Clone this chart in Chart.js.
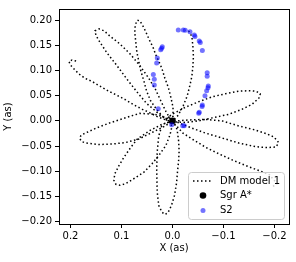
<!DOCTYPE html>
<html>
<head>
<meta charset="utf-8">
<script src="https://cdn.jsdelivr.net/npm/chart.js@4.4.1/dist/chart.umd.min.js"></script>
<style>
  html, body { margin: 0; padding: 0; background: #fff; }
</style>
</head>
<body>
<canvas id="orbitChart" width="296" height="262"></canvas>
<script>
// Axis ranges and ticks (arcsec)
const xMin = -0.2284, xMax = 0.2225;
const yMin = -0.205, yMax = 0.2225;
const xTicks = [0.2, 0.1, 0.0, -0.1, -0.2];
const yTicks = [0.20, 0.15, 0.10, 0.05, 0.00, -0.05, -0.10, -0.15, -0.20];

// DM model 1 orbit, one line per petal, null = gap in the line
const modelX = [
  -0.197, -0.205, -0.190, -0.170, -0.144, -0.118, -0.092, -0.066, -0.040, -0.020, -0.009, -0.001,
  0.013, 0.021, 0.027, 0.030, 0.031, 0.030, 0.027, 0.021, 0.015, 0.009, 0.002, -0.004, -0.008, -0.010, -0.012, -0.013, -0.012, -0.009, -0.003,
  0.005, 0.021, 0.044, 0.069, 0.082, 0.095, 0.105, 0.113, 0.115, 0.111, 0.103, 0.092, 0.076, 0.056, 0.040, 0.027, 0.013, 0.005, 0.001,
  0.009, 0.034, 0.064, 0.090, 0.123, 0.149, 0.166, 0.177, 0.180, 0.182, 0.178, 0.170, 0.144, 0.118, 0.092, 0.066, 0.040, 0.020, 0.005,
  0.013, 0.028, 0.051, 0.070, 0.090, 0.109, 0.129, 0.142, 0.150, 0.152, 0.144, 0.134, 0.123, 0.103, 0.083, 0.064, 0.048, 0.034, 0.023, 0.013, 0.005,
  0.015, 0.023, 0.034, 0.043, 0.051, 0.056, 0.062, 0.066, 0.070, 0.072, 0.074, 0.073, 0.069, 0.064, 0.057, 0.051, 0.044, 0.038, 0.033, 0.028, 0.021, 0.015, 0.008, 0.003, -0.001, -0.001,
  0.009, 0.001, -0.025, -0.051, -0.078, -0.104, -0.130, -0.149, -0.164, -0.172, -0.171, -0.156, -0.136, -0.110, -0.078, -0.051, -0.025, -0.007,
  -0.007, -0.034, -0.064, -0.097, -0.130, -0.162, -0.183, -0.199, -0.208, -0.203, -0.183, -0.162, -0.130, -0.097, -0.064, -0.040, -0.015,
  -0.001, -0.011, -0.021, -0.029, -0.034, -0.038, -0.040, -0.041, -0.040, -0.038, -0.032, -0.026,
  null,
  0.189, 0.197, 0.203, 0.200, 0.191, 0.183, 0.172, 0.157, 0.142, 0.125, 0.109, 0.092, 0.076, 0.059, 0.044, 0.027, 0.013, 0.003
];
const modelY = [
  -0.130, -0.125, -0.107, -0.099, -0.089, -0.078, -0.066, -0.053, -0.037, -0.024, -0.011, -0.003,
  -0.003, -0.010, -0.030, -0.062, -0.095, -0.141, -0.168, -0.181, -0.186, -0.183, -0.168, -0.148, -0.123, -0.099, -0.079, -0.060, -0.040, -0.017, -0.004,
  -0.002, -0.007, -0.019, -0.036, -0.053, -0.072, -0.089, -0.105, -0.118, -0.126, -0.128, -0.125, -0.115, -0.102, -0.085, -0.069, -0.049, -0.028, -0.011,
  0.005, 0.013, 0.015, 0.007, -0.004, -0.014, -0.022, -0.027, -0.030, -0.035, -0.041, -0.044, -0.047, -0.046, -0.043, -0.036, -0.023, -0.013, -0.004,
  0.003, 0.015, 0.035, 0.058, 0.084, 0.110, 0.136, 0.156, 0.170, 0.179, 0.183, 0.179, 0.169, 0.153, 0.133, 0.110, 0.087, 0.064, 0.040, 0.019, 0.005,
  0.005, 0.013, 0.027, 0.040, 0.060, 0.079, 0.099, 0.118, 0.138, 0.157, 0.176, 0.191, 0.200, 0.199, 0.187, 0.174, 0.158, 0.146, 0.132, 0.121, 0.105, 0.085, 0.066, 0.046, 0.027, 0.009,
  0.007, 0.013, 0.027, 0.038, 0.048, 0.054, 0.059, 0.060, 0.059, 0.054, 0.047, 0.033, 0.023, 0.013, 0.006, 0.000, -0.003, -0.002,
  0.000, 0.002, 0.003, 0.000, -0.010, -0.018, -0.025, -0.032, -0.043, -0.052, -0.053, -0.051, -0.044, -0.034, -0.024, -0.015, -0.005,
  0.001, 0.011, 0.030, 0.050, 0.070, 0.089, 0.109, 0.128, 0.148, 0.168, 0.178, 0.180,
  null,
  0.119, 0.121, 0.118, 0.111, 0.101, 0.093, 0.085, 0.078, 0.069, 0.059, 0.051, 0.042, 0.032, 0.023, 0.016, 0.007, 0.002, -0.001
];

// Sgr A* position
const sgrX = [0.0];
const sgrY = [0.0];

// S2 astrometric positions
const s2X = [0.028, 0.0357, 0.0357, 0.0376, 0.031, 0.0298, 0.0231, 0.0212, 0.020,
  -0.0114, -0.0212, -0.025, -0.0343, -0.0428, -0.044, -0.0525, -0.0545, -0.0585,
  -0.068, -0.068, -0.0702, -0.0696, -0.067, -0.0637, -0.0585, -0.058, -0.0525, -0.0514,
  -0.020, -0.023, 0.0016];
const s2Y = [0.024, 0.0716, 0.0827, 0.0925, 0.1153, 0.1251, 0.1416, 0.1447, 0.1475,
  0.1808, 0.1808, 0.180, 0.1775, 0.171, 0.1676, 0.159, 0.156, 0.140,
  0.0957, 0.089, 0.0696, 0.0657, 0.0598, 0.050, 0.0318, 0.0284, 0.0173, 0.0153,
  -0.0094, -0.0094, -0.0075];

const zip = (xs, ys) => xs.map((x, i) => ({ x: x, y: ys[i] }));

const font = { family: '"DejaVu Sans", sans-serif', size: 10 };
const fmt = (v, d) => (v < 0 ? '\u2212' : '') + Math.abs(v).toFixed(d);

// Box around the axes (matplotlib spines)
const framePlugin = {
    id: 'frame',
    afterDatasetsDraw(chart) {
        const { ctx, chartArea: a } = chart;
        ctx.save();
        ctx.strokeStyle = '#000';
        ctx.lineWidth = 1;
        ctx.strokeRect(Math.round(a.left) + 0.5, Math.round(a.top) + 0.5,
            Math.round(a.right - a.left), Math.round(a.bottom - a.top));
        ctx.restore();
    }
};

// Legend inside the axes, lower right
const boxLegend = {
    id: 'boxLegend',
    afterDraw(chart) {
        const { ctx, chartArea: a } = chart;
        const ds = chart.data.datasets;
        const w = 96, h = 47;
        const bx = a.right - 5 - w, by = a.bottom - 5 - h;
        ctx.save();
        ctx.beginPath();
        if (ctx.roundRect) ctx.roundRect(bx + 0.5, by + 0.5, w, h, 3);
        else ctx.rect(bx + 0.5, by + 0.5, w, h);
        ctx.fillStyle = 'rgba(255,255,255,0.8)';
        ctx.fill();
        ctx.strokeStyle = '#cccccc';
        ctx.lineWidth = 1;
        ctx.stroke();

        const rows = [by + 9, by + 23.5, by + 38.5];
        const hx = bx + 5, mx = bx + 15, tx = bx + 32;
        // dotted handle
        ctx.beginPath();
        ctx.setLineDash(ds[0].borderDash);
        ctx.lineWidth = ds[0].borderWidth;
        ctx.strokeStyle = ds[0].borderColor;
        ctx.moveTo(hx, rows[0]);
        ctx.lineTo(hx + 20, rows[0]);
        ctx.stroke();
        ctx.setLineDash([]);
        // markers
        [1, 2].forEach(i => {
            ctx.beginPath();
            ctx.arc(mx, rows[i], ds[i].pointRadius, 0, Math.PI * 2);
            ctx.fillStyle = ds[i].backgroundColor;
            ctx.fill();
        });
        // texts
        ctx.fillStyle = '#000';
        ctx.font = '10px "DejaVu Sans", sans-serif';
        ctx.textBaseline = 'middle';
        ctx.textAlign = 'left';
        ds.forEach((d, i) => ctx.fillText(d.label, tx, rows[i]));
        ctx.restore();
    }
};

new Chart(document.getElementById('orbitChart'), {
    type: 'scatter',
    data: {
        datasets: [{
            label: 'DM model 1',
            data: zip(modelX, modelY),
            showLine: true,
            spanGaps: false,
            borderColor: '#000',
            borderWidth: 1.5,
            borderDash: [1.5, 2.5],
            pointRadius: 0,
            tension: 0,
            order: 3
        }, {
            label: 'Sgr A*',
            data: zip(sgrX, sgrY),
            pointRadius: 3.3,
            backgroundColor: '#000',
            borderWidth: 0,
            order: 2
        }, {
            label: 'S2',
            data: zip(s2X, s2Y),
            pointRadius: 2.5,
            backgroundColor: 'rgba(0,0,255,0.55)',
            borderWidth: 0,
            order: 1
        }]
    },
    options: {
        responsive: false,
        animation: false,
        devicePixelRatio: 1,
        layout: { padding: { top: 6, right: 7, left: 0, bottom: 0 } },
        plugins: { legend: { display: false }, tooltip: { enabled: false } },
        scales: {
            x: {
                type: 'linear',
                reverse: true,
                min: xMin,
                max: xMax,
                afterBuildTicks: s => { s.ticks = xTicks.map(v => ({ value: v })); },
                afterFit: s => { s.height = 38; },
                ticks: { callback: v => fmt(v, 1), color: '#000', font: font, padding: 2, maxRotation: 0, autoSkip: false },
                grid: { drawOnChartArea: false, tickLength: 4, color: '#000' },
                border: { display: false },
                title: { display: true, text: 'X (as)', color: '#000', font: font, padding: { top: 0, bottom: 8 } }
            },
            y: {
                type: 'linear',
                min: yMin,
                max: yMax,
                afterBuildTicks: s => { s.ticks = yTicks.map(v => ({ value: v })); },
                afterFit: s => { s.width = 59; },
                ticks: { callback: v => fmt(v, 2), color: '#000', font: font, padding: 3, autoSkip: false },
                grid: { drawOnChartArea: false, tickLength: 4, color: '#000' },
                border: { display: false },
                title: { display: true, text: 'Y (as)', color: '#000', font: font, padding: { top: 2, bottom: 0 } }
            }
        }
    },
    plugins: [framePlugin, boxLegend]
});
</script>
</body>
</html>
